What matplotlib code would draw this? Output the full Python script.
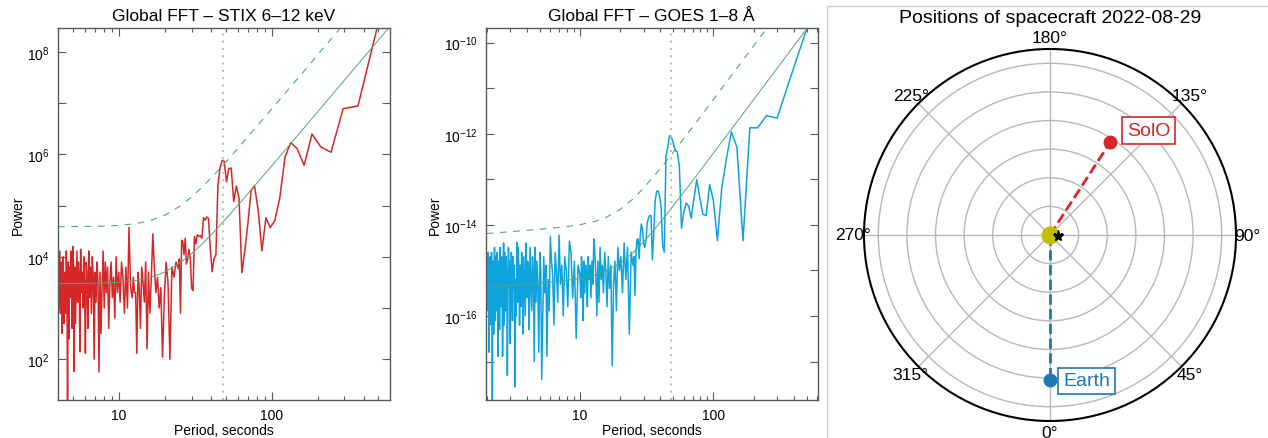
import numpy as np
import matplotlib
matplotlib.use('Agg')
import matplotlib.pyplot as plt
from matplotlib import ticker
from matplotlib.patches import Rectangle

plt.rcParams['font.family'] = ['Liberation Sans', 'DejaVu Sans']
plt.rcParams['mathtext.fontset'] = 'custom'
plt.rcParams['mathtext.rm'] = 'Liberation Sans'
plt.rcParams['mathtext.it'] = 'Liberation Sans:italic'
plt.rcParams['mathtext.bf'] = 'Liberation Sans:bold'

# ---- STIX 6-12 keV global spectrum (harmonics of a 1470 s window) ----
STIX_WINDOW = 1470.0
stix_harm = np.r_[3:61, 62:121:2, 123:367:3]
stix_power = [
    2.9e8, 8.8e6, 7.8e6, 1.1e6, 1.4e6, 2.5e6, 6.1e5, 1.3e6, 1.7e6, 8.9e5,
    1.4e5, 5.1e4, 3.7e4, 5.8e4, 1.3e4, 8.3e4, 2.4e5, 2.0e5, 4.4e4, 1.3e4,
    4.9e3, 1.4e5, 2.4e5, 1.2e5, 5.4e5, 5.3e5, 2.9e5, 7.3e5, 7.6e5, 5.3e5,
    2.5e5, 1.1e4, 9.2e3, 5.1e3,
    1.4e4, 5.6e4, 6.0e4, 5.2e4, 5.8e4, 2.3e4, 2.6e4, 2.5e4, 2.7e4, 1.8e4,
    2.5e4, 2.2e3, 2.4e3, 9.1e3, 1.4e4, 9.1e3, 7.2e3, 2.3e4, 1.1e4, 2.0e4,
    2.1e4, 7.9e2, 9.1e3, 5.9e3,
    7.9e3, 4.0e3, 6.3e3, 1.0e2, 3.2e3, 7.9e3, 1.6e3, 1.1e2, 2.5e3, 1.0e3,
    4.0e3, 2.0e3, 6.3e3, 2.8e4, 4.0e3, 7.9e2, 5.0e3, 1.6e2, 7.9e3, 1.3e3,
    3.2e3, 6.3e3, 4.0e2, 2.5e3, 5.0e3, 1.3e2, 2.0e3, 2.0e3, 4.0e3, 1.6e3,
    2.5e3, 3.8e4, 1.0e3, 6.3e3, 7.9e2, 4.0e3, 7.9e3, 1.3e3, 5.0e3, 2.0e3,
    1.0e4, 6.3e2, 4.0e3, 1.6e3, 7.9e3, 3.2e3, 4.0e2, 6.3e3, 2.0e3, 7.9e3,
    1.0e3, 1.3e4, 2.5e3, 3.2e2, 5.0e3, 56, 3.2e3, 7.9e3, 1.3e3, 5.0e3,
    1.0e2, 4.0e3, 1.0e4, 7.9e2, 6.3e3, 1.6e3, 1.3e4, 4.0e2, 4.0e3, 7.9e3,
    1.3e2, 2.5e3, 1.0e4, 1.0e3, 5.0e3, 2.0e3, 1.4e4, 1.4e2, 4.0e3, 7.9e3,
    1.3e3, 1.3e4, 2.5e3, 5.0e2, 6.3e3, 58, 7.9e3, 1.6e4, 4.0e2, 3.2e3,
    1.3e4, 1.6e3, 6.3e3, 2.5e2, 7.9e3, 10, 4.0e3, 1.3e4, 7.9e2, 5.0e3,
    2.0e3, 5.0e2, 1.0e4, 2.5e3, 3.2e2, 7.9e3, 4.0e3, 7.9e2, 1.3e4, 3.2e3,
    1.0e3, 2.5e3,
]
stix_model_period = [4, 6, 8, 10, 13, 16, 20, 25, 30, 36, 43, 52, 62, 75,
                     90, 110, 135, 170, 220, 300, 400, 600]
stix_model = [3.0e3, 3.03e3, 3.08e3, 3.18e3, 3.45e3, 3.93e3, 5.04e3, 7.49e3,
              1.15e4, 1.91e4, 3.31e4, 6.20e4, 1.12e5, 2.19e5, 4.11e5, 8.26e5,
              1.69e6, 3.80e6, 9.44e6, 2.82e7, 7.76e7, 3.23e8]
stix_conf = [3.87e4, 3.91e4, 3.97e4, 4.10e4, 4.45e4, 5.07e4, 6.50e4, 9.66e4,
             1.48e5, 2.47e5, 4.27e5, 8.0e5, 1.45e6, 2.83e6, 5.30e6, 1.07e7,
             2.18e7, 4.9e7, 1.22e8, 3.64e8, 1.0e9, 4.17e9]

# ---- GOES 1-8 A global spectrum (harmonics of a 1500 s window) ----
GOES_WINDOW = 1500.0
goes_harm = np.r_[3:61, 62:151:2, 155:751:5]
goes_power = [
    2.0e-10, 1.6e-11, 2.2e-12, 2.5e-12, 1.35e-12, 1.35e-12, 4.5e-15, 5.1e-13,
    1.1e-12, 2.8e-13, 6.2e-14, 4.5e-15, 3.4e-14, 7.6e-14, 1.6e-14, 1.7e-14,
    4.1e-14, 9.8e-14, 3.7e-14, 1.4e-14, 2.6e-14, 3.0e-14, 1.9e-14, 8.5e-15,
    2.0e-13, 4.0e-13, 4.3e-13, 6.3e-13, 8.5e-13, 9.1e-13, 5.0e-13, 3.2e-13,
    2.5e-15, 3.5e-15, 2.5e-14, 4.4e-14, 5.6e-14, 5.4e-14, 3.2e-14, 6.3e-15,
    1.7e-15, 1.6e-14, 1.6e-14, 1.4e-14, 1.1e-14, 4.4e-15, 3.2e-15, 4.0e-15,
    7.9e-15, 1.05e-14, 5.9e-15, 1.8e-15, 4.9e-15, 4.8e-15, 2.5e-15, 2.8e-16,
    2.0e-15, 1.3e-15,
    2.5e-15, 4.0e-17, 3.2e-15, 6.3e-16, 4.0e-15, 3.2e-16, 2.0e-15, 1.0e-15,
    3.2e-15, 1.3e-16, 1.6e-15, 5.0e-16, 8.1e-18, 1.3e-15, 4.0e-16, 2.0e-15,
    1.6e-16, 1.0e-15, 2.5e-15, 3.2e-16, 1.3e-15, 6.3e-16, 3.2e-15, 2.0e-16,
    1.6e-15, 1.0e-16, 7.9e-16, 2.5e-15, 4.9e-15, 5.0e-16, 1.6e-15, 2.5e-16,
    1.3e-15, 6.3e-16, 2.0e-15, 1.6e-16, 1.0e-15, 1.3e-15, 3.2e-16, 1.6e-15,
    7.9e-17, 1.0e-15, 2.0e-15, 2.5e-16, 7.9e-16,
    1.3e-15, 3.2e-17, 1.6e-15, 2.5e-16, 2.5e-15, 4.4e-15, 1.6e-16, 1.0e-15,
    2.0e-15, 1.0e-16, 1.3e-15, 5.0e-16, 6.0e-15, 2.0e-16, 1.0e-15, 2.5e-15,
    6.3e-17, 7.9e-16, 1.6e-15, 5.6e-15, 1.3e-16, 6.3e-16, 1.3e-17, 1.3e-15,
    3.2e-16, 2.0e-15, 7.9e-17, 4.0e-18, 1.0e-15, 2.5e-15, 1.6e-17, 4.0e-16,
    1.6e-15, 2.0e-16, 3.2e-15, 1.0e-17, 7.9e-16, 2.0e-15, 1.3e-16, 6.3e-16,
    3.2e-15, 5.0e-17, 1.0e-15, 1.6e-15, 2.5e-16, 4.0e-15, 1.0e-16, 5.0e-16,
    2.0e-15, 4.0e-17, 7.9e-16, 2.5e-15, 1.6e-16, 1.3e-15, 6.3e-17, 1.0e-15,
    3.2e-15, 2.0e-16, 4.1e-15, 1.0e-16, 6.3e-16, 2.8e-18, 1.3e-15, 4.0e-16,
    2.0e-15, 7.9e-17, 1.0e-15, 2.5e-15, 1.6e-16, 2.5e-17, 1.6e-15, 5.0e-16,
    3.2e-15, 1.0e-16, 5.0e-18, 7.9e-16, 2.0e-15, 1.3e-16, 6.3e-16, 2.5e-15,
    6.3e-17, 4.0e-15, 3.2e-16, 1.3e-17, 1.0e-15, 2.0e-15, 1.6e-16, 7.9e-16,
    3.2e-15, 5.0e-17, 6.3e-16, 1.6e-15, 1.3e-17, 4.0e-16, 2.5e-15, 1.3e-16,
    1.0e-15, 2.0e-15, 7.9e-17, 5.0e-16, 3.2e-15, 2.0e-16, 4.0e-17, 1.6e-15,
    6.3e-16, 3.2e-19, 1.0e-15, 2.5e-15, 6.3e-17, 7.9e-16, 2.0e-15, 1.6e-16,
    1.3e-15, 1.6e-17, 5.0e-16, 2.5e-15, 1.3e-16, 1.0e-15, 1.6e-15, 3.2e-16,
]
goes_model_period = [2, 3, 4, 6, 8, 10, 13, 16, 20, 25, 30, 36, 43, 52, 62,
                     75, 90, 110, 135, 170, 220, 300, 400, 500, 620]
goes_model = [4.27e-16, 4.68e-16, 5.02e-16, 5.56e-16, 6.06e-16, 6.66e-16,
              7.91e-16, 9.91e-16, 1.45e-15, 2.46e-15, 4.26e-15, 7.81e-15,
              1.48e-14, 3.03e-14, 5.9e-14, 1.22e-13, 2.49e-13, 5.44e-13,
              1.21e-12, 2.97e-12, 8.13e-12, 2.73e-11, 8.38e-11, 2.0e-10,
              4.62e-10]
goes_conf = [6.45e-15, 7.07e-15, 7.58e-15, 8.40e-15, 9.15e-15, 1.01e-14,
             1.19e-14, 1.50e-14, 2.19e-14, 3.71e-14, 6.43e-14, 1.18e-13,
             2.23e-13, 4.58e-13, 8.91e-13, 1.84e-12, 3.76e-12, 8.21e-12,
             1.83e-11, 4.48e-11, 1.23e-10, 4.12e-10, 1.27e-9, 3.02e-9,
             6.98e-9]

PEAK_PERIOD = 48.0

# ---- spacecraft positions (longitude deg, distance AU) ----
craft_names = ['SolO', 'Earth']
craft_lon = [147.0, 0.0]
craft_dist = [0.776, 1.01]
craft_colours = ['#d62728', '#1f77b4']
craft_offsets = [(12, 8), (9.5, -1)]
flare_lon, flare_dist = 85.0, 0.054

assert len(stix_power) == len(stix_harm)
assert len(goes_power) == len(goes_harm)

GREEN = '#4fa873'


def decade_label(v, pos):
    e = int(round(np.log10(v)))
    return '$10^{%d}$' % e if e % 2 == 0 else ''


def fft_panel(ax, period, power, mp, model, conf, colour, xlim, ylim, title):
    ax.plot(period, power, color=colour, lw=1.1)
    ax.plot(mp, model, color=GREEN, lw=0.7)
    ax.plot(mp, conf, color=GREEN, lw=0.8, dashes=(6, 6))
    ax.axvline(PEAK_PERIOD, color='0.75', lw=1.5, ls=(0, (1, 2.5)))
    ax.set_xscale('log')
    ax.set_yscale('log')
    ax.set_xlim(xlim)
    ax.set_ylim(ylim)
    ax.xaxis.set_major_locator(ticker.FixedLocator([10, 100]))
    ax.xaxis.set_major_formatter(ticker.FuncFormatter(lambda v, p: '%g' % v))
    ax.xaxis.set_minor_locator(ticker.LogLocator(base=10, subs=np.arange(2, 10)))
    ax.xaxis.set_minor_formatter(ticker.NullFormatter())
    lo, hi = np.ceil(np.log10(ylim[0])), np.floor(np.log10(ylim[1]))
    ax.yaxis.set_major_locator(ticker.FixedLocator(10.0 ** np.arange(lo, hi + 1)))
    ax.yaxis.set_major_formatter(ticker.FuncFormatter(decade_label))
    ax.yaxis.set_minor_locator(ticker.NullLocator())
    ax.tick_params(which='both', direction='in', top=True, right=True,
                   color='0.35', labelsize=10, pad=6)
    ax.tick_params(which='major', length=6, width=0.8)
    ax.tick_params(which='minor', length=3, width=0.8)
    for sp in ax.spines.values():
        sp.set_color('0.35')
        sp.set_linewidth(1.0)
    ax.set_title(title, fontsize=12.5)
    ax.set_xlabel('Period, seconds', fontsize=10, labelpad=0.5)
    ax.set_ylabel('Power', fontsize=10, labelpad=1.5)


fig = plt.figure(figsize=(12.68, 4.39), dpi=100)

ax1 = fig.add_axes([0.0457, 0.0866, 0.2618, 0.8474])
fft_panel(ax1, STIX_WINDOW / stix_harm, stix_power, stix_model_period,
          stix_model, stix_conf, '#d62728', (4.0, 595), (16, 2.94e8),
          'Global FFT \u2013 STIX 6\u201312 keV')

ax2 = fig.add_axes([0.3831, 0.0866, 0.2618, 0.8474])
fft_panel(ax2, GOES_WINDOW / goes_harm, goes_power, goes_model_period,
          goes_model, goes_conf, '#0fa3dd', (1.97, 605), (1.43e-18, 2.1e-10),
          'Global FFT \u2013 GOES 1\u20138 \u00c5')

# frame around the orbit panel
fig.add_artist(Rectangle((827 / 1268, -0.05), 0.5, 1.0347, transform=fig.transFigure,
                         fill=False, edgecolor='0.82', lw=1.0))

axp = fig.add_axes([864 / 1268, 1 - 422 / 439, 372 / 1268, 372 / 439], projection='polar')
axp.set_theta_zero_location('S')
axp.set_theta_direction(1)
axp.set_rlim(0, 1.3)
axp.set_rticks([0.2, 0.4, 0.6, 0.8, 1.0, 1.2])
axp.set_yticklabels([])
axp.set_thetagrids(range(0, 360, 45), fontsize=12.5)
axp.tick_params(axis='x', pad=-2.5)
axp.grid(color='0.72', lw=1.0)
axp.spines['polar'].set_linewidth(1.5)

axp.plot(0, 0, 'o', color='y', ms=12, zorder=3)
for name, lon, dist, col, off in zip(craft_names, craft_lon, craft_dist,
                                     craft_colours, craft_offsets):
    th = np.deg2rad(lon)
    axp.plot([th, th], [0, dist], '--', color=col, lw=2)
    axp.plot(th, dist, 'o', color=col, ms=9, zorder=4)
    axp.annotate(name, (th, dist), xytext=off, textcoords='offset points',
                 ha='left', va='center', fontsize=14, color=col,
                 bbox=dict(boxstyle='square,pad=0.25', fc='white', ec=col, lw=1.2))
axp.plot(np.deg2rad(flare_lon), flare_dist, '*', color='k', ms=8, zorder=5)
axp.set_title('Positions of spacecraft 2022-08-29', fontsize=14, y=1.073, pad=0)

fig.savefig('out.png', dpi=100)
